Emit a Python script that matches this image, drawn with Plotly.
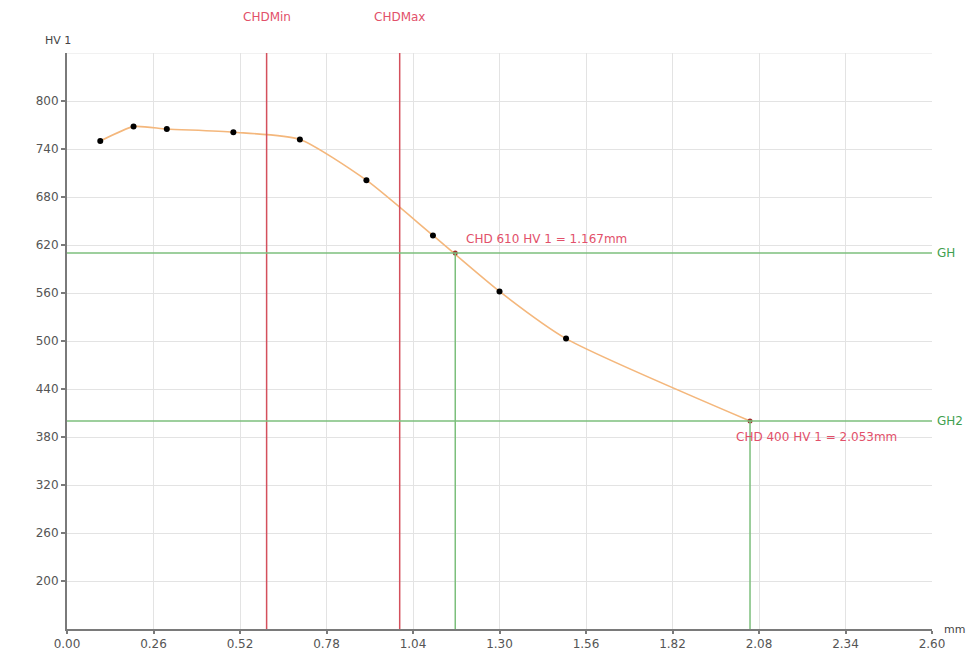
import plotly.graph_objects as go

# Measured hardness profile
depth_mm = [0.1, 0.2, 0.3, 0.5, 0.7, 0.9, 1.1, 1.3, 1.5]
hardness_hv = [750, 768, 765, 761, 752, 701, 632, 562, 503]

# Case hardening depth results
chd_limits_hv = [610, 400]
chd_depth_mm = [1.167, 2.053]
chd_names = ["GH", "GH2"]

# Specification limits
spec_names = ["CHDMin", "CHDMax"]
spec_depth_mm = [0.6, 1.0]

x_ticks = [0.00, 0.26, 0.52, 0.78, 1.04, 1.30, 1.56, 1.82, 2.08, 2.34, 2.60]
y_ticks = [200, 260, 320, 380, 440, 500, 560, 620, 680, 740, 800]
x_range = [0.0, 2.6]
y_range = [140, 860]

RED = "#d4505c"
RED_TXT = "#e2506a"
GREEN = "#7cbf7c"
GREEN_TXT = "#3f9f4f"
AXIS = "#7a7a7a"
GRID = "#e3e3e3"
TICKFONT = dict(family="DejaVu Sans", size=12, color="#555555")

fig = go.Figure()

# hardness curve (ends at the last CHD intersection)
curve_x = depth_mm + [chd_depth_mm[-1]]
curve_y = hardness_hv + [chd_limits_hv[-1]]
fig.add_trace(go.Scatter(
    x=curve_x, y=curve_y, mode="lines",
    line=dict(color="#f4b77c", width=1.6, shape="spline", smoothing=0.6),
    hoverinfo="skip", showlegend=False))

fig.add_trace(go.Scatter(
    x=depth_mm, y=hardness_hv, mode="markers",
    marker=dict(color="black", size=6),
    showlegend=False))

fig.add_trace(go.Scatter(
    x=chd_depth_mm, y=chd_limits_hv, mode="markers",
    marker=dict(color="#a0302e", size=5),
    showlegend=False))

shapes = []
# top border grid line
shapes.append(dict(type="line", xref="x", yref="y", x0=x_range[0], x1=x_range[1],
                   y0=y_range[1], y1=y_range[1], line=dict(color=GRID, width=1), layer="below"))
# spec limit vertical lines
for d in spec_depth_mm:
    shapes.append(dict(type="line", xref="x", yref="y", x0=d, x1=d,
                       y0=y_range[0], y1=y_range[1], line=dict(color=RED, width=1.5)))
# hardness limit horizontal lines
for h in chd_limits_hv:
    shapes.append(dict(type="line", xref="x", yref="y", x0=x_range[0], x1=x_range[1],
                       y0=h, y1=h, line=dict(color=GREEN, width=1.5)))
# drop lines from intersections
for d, h in zip(chd_depth_mm, chd_limits_hv):
    shapes.append(dict(type="line", xref="x", yref="y", x0=d, x1=d,
                       y0=y_range[0], y1=h, line=dict(color=GREEN, width=1.5)))

annotations = []
for name, d in zip(spec_names, spec_depth_mm):
    annotations.append(dict(text=name, x=d, xref="x", y=1, yref="paper", yshift=36,
                            showarrow=False, xanchor="center", yanchor="middle",
                            font=dict(family="DejaVu Sans", size=12, color=RED_TXT)))
for name, h in zip(chd_names, chd_limits_hv):
    annotations.append(dict(text=name, x=1, xref="paper", y=h, yref="y", xshift=3,
                            showarrow=False, xanchor="left", yanchor="middle",
                            font=dict(family="DejaVu Sans", size=12, color=GREEN_TXT)))
annotations.append(dict(text=f"CHD {chd_limits_hv[0]} HV 1 = {chd_depth_mm[0]:.3f}mm",
                        x=chd_depth_mm[0], y=chd_limits_hv[0], xref="x", yref="y",
                        xshift=9, yshift=14, showarrow=False, xanchor="left", yanchor="middle",
                        font=dict(family="DejaVu Sans", size=12, color=RED_TXT)))
annotations.append(dict(text=f"CHD {chd_limits_hv[1]} HV 1 = {chd_depth_mm[1]:.3f}mm",
                        x=chd_depth_mm[1], y=chd_limits_hv[1], xref="x", yref="y",
                        xshift=-16, yshift=-16, showarrow=False, xanchor="left", yanchor="middle",
                        font=dict(family="DejaVu Sans", size=12, color=RED_TXT)))
annotations.append(dict(text="HV 1", x=0, xref="paper", y=1, yref="paper", xshift=-9, yshift=13,
                        showarrow=False, xanchor="center", yanchor="middle",
                        font=dict(family="DejaVu Sans", size=11, color="#444444")))
annotations.append(dict(text="mm", x=1, xref="paper", y=0, yref="paper", xshift=10, yshift=0,
                        showarrow=False, xanchor="left", yanchor="middle",
                        font=dict(family="DejaVu Sans", size=11, color="#444444")))

fig.update_layout(
    width=966, height=649,
    margin=dict(l=59, r=42, t=45, b=28, autoexpand=False),
    paper_bgcolor="white", plot_bgcolor="white",
    shapes=shapes, annotations=annotations,
    showlegend=False,
    xaxis=dict(range=x_range, tickvals=x_ticks, ticktext=[f"{v:.2f}" for v in x_ticks],
               showgrid=True, gridcolor=GRID, gridwidth=1, zeroline=False,
               showline=True, linecolor=AXIS, linewidth=2,
               ticks="outside", ticklen=3, tickcolor=AXIS, tickwidth=2,
               tickfont=TICKFONT, fixedrange=True),
    yaxis=dict(range=y_range, tickvals=y_ticks,
               showgrid=True, gridcolor=GRID, gridwidth=1, zeroline=False,
               showline=True, linecolor=AXIS, linewidth=2,
               ticks="outside", ticklen=4, tickcolor=AXIS, tickwidth=1.5,
               tickfont=TICKFONT, fixedrange=True),
)

fig.write_html("out.html")
